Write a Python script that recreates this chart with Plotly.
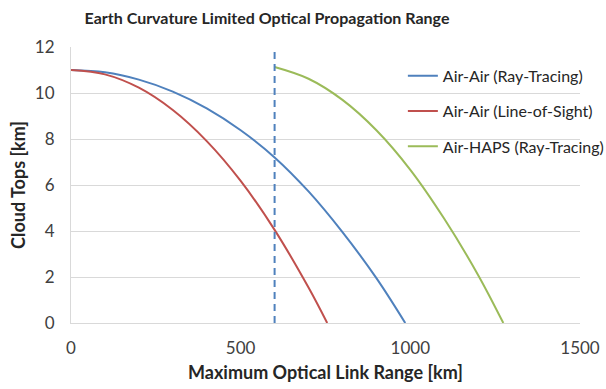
import plotly.graph_objects as go

# Data
air_rt_range = [0, 100, 200, 300, 400, 500, 600, 700, 800, 900, 985]
air_rt_top = [11.0, 10.9, 10.58, 10.06, 9.33, 8.38, 7.2, 5.72, 3.95, 1.95, 0.0]

air_los_range = [0, 100, 200, 300, 400, 500, 600, 700, 755]
air_los_top = [11.0, 10.81, 10.23, 9.26, 7.91, 6.18, 4.05, 1.54, 0.0]

haps_rt_range = [600, 700, 800, 900, 1000, 1100, 1200, 1274]
haps_rt_top = [11.13, 10.62, 9.70, 8.38, 6.66, 4.53, 2.08, 0.0]

cutoff_range = 600
y_ticks = [0, 2, 4, 6, 8, 10, 12]
x_ticks = [0, 500, 1000, 1500]

BLUE = "#4F81BD"
RED = "#C0504D"
GREEN = "#9BBB59"
FONT = "Lato"

fig = go.Figure()
fig.add_trace(go.Scatter(x=air_rt_range, y=air_rt_top, mode="lines",
                         name="Air-Air (Ray-Tracing)", legendgroup="a",
                         line=dict(color=BLUE, width=2, shape="spline", smoothing=1.0)))
fig.add_trace(go.Scatter(x=air_los_range, y=air_los_top, mode="lines",
                         name="Air-Air (Line-of-Sight)", legendgroup="b",
                         line=dict(color=RED, width=2, shape="spline", smoothing=1.0)))
fig.add_trace(go.Scatter(x=haps_rt_range, y=haps_rt_top, mode="lines",
                         name="Air-HAPS (Ray-Tracing)", legendgroup="c",
                         line=dict(color=GREEN, width=2, shape="spline", smoothing=1.0)))
fig.add_trace(go.Scatter(x=[cutoff_range, cutoff_range], y=[y_ticks[0], y_ticks[-1]],
                         mode="lines", showlegend=False, hoverinfo="skip",
                         line=dict(color=BLUE, width=2, dash="7px,5px")))

# white panel behind the legend, hiding gridlines there (drawn beneath the traces)
fig.add_shape(type="rect", xref="paper", yref="paper", x0=0.676, x1=1.0, y0=0.56, y1=0.97,
              fillcolor="white", line_width=0, layer="between")

fig.update_layout(
    width=606, height=389,
    margin=dict(l=71, r=26, t=47, b=66, autoexpand=False),
    paper_bgcolor="white", plot_bgcolor="white",
    font=dict(family=FONT, color="#404040", size=16),
    title=dict(text="<b>Earth Curvature Limited Optical Propagation Range</b>",
               x=267/606, xanchor="center", y=1-18/389, yanchor="middle",
               font=dict(family=FONT, size=16, color="#262626")),
    showlegend=True,
    legend=dict(x=0.652, xanchor="left", y=0.957, yanchor="top",
                bgcolor="rgba(0,0,0,0)", borderwidth=0,
                traceorder="grouped", tracegroupgap=11.5,
                font=dict(family=FONT, size=16, color="#262626")),
)
fig.update_xaxes(range=[0, 1500], tickvals=x_ticks, showgrid=False, zeroline=False,
                 showline=True, linecolor="#D9D9D9", linewidth=1,
                 ticks="outside", ticklen=10, tickcolor="rgba(0,0,0,0)",
                 tickfont=dict(size=17, color="#404040"),
                 title=dict(text="<b>Maximum Optical Link Range [km]</b>", standoff=8,
                            font=dict(size=18, color="#262626")))
fig.update_yaxes(range=[0, 12], tickvals=y_ticks, showgrid=True, gridcolor="#D9D9D9",
                 gridwidth=1, zeroline=False, showline=True, linecolor="#D9D9D9", linewidth=1,
                 ticks="outside", ticklen=12, tickcolor="rgba(0,0,0,0)",
                 tickfont=dict(size=17, color="#404040"),
                 title=dict(text="<b>Cloud Tops [km]</b>", standoff=4,
                            font=dict(size=18, color="#262626")))

fig.write_html("out.html", config={"displayModeBar": False},
               post_script="document.body.style.margin='0px';")
